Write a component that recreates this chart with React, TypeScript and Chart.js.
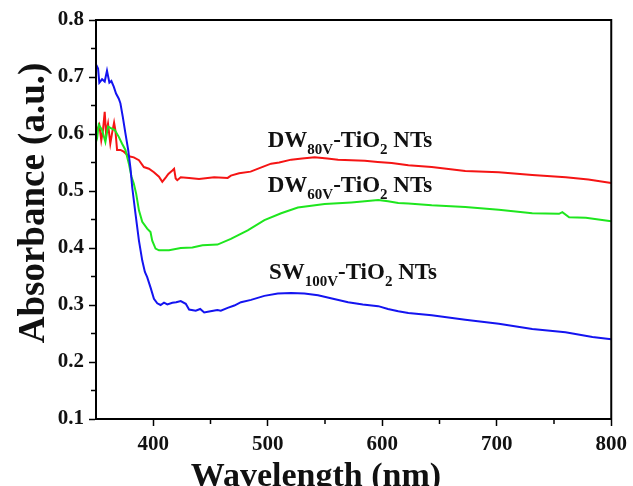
import React, { useEffect, useRef } from "react";
import { Chart, registerables } from "chart.js";

Chart.register(...registerables);

const X_TICKS = [400, 500, 600, 700, 800];
const X_MINOR = [450, 550, 650, 750];
const Y_TICKS = [0.1, 0.2, 0.3, 0.4, 0.5, 0.6, 0.7, 0.8];
const Y_MINOR = [0.15, 0.25, 0.35, 0.45, 0.55, 0.65, 0.75];

const WAVE_SW100 = [349.5, 351.8, 352.9, 355.3, 357.6, 359.6, 361.7, 363.4, 365.5, 367.5, 369.9, 371.3, 373.4, 375.7, 378.1, 380.1, 381.6, 384.5, 387.5, 390.4, 392.7, 394.7, 397.6, 400.6, 403.5, 406.4, 409.4, 412.3, 416.7, 420, 424, 428.4, 431.3, 437.1, 441, 444.5, 450, 456, 459, 465, 470.8, 476.6, 485.4, 497, 508.8, 520.5, 532, 543.9, 557, 570.2, 583, 596.5, 605, 614, 622.8, 643.2, 672.5, 701.8, 731, 760, 783.6, 800];
const ABS_SW100 = [0.724, 0.715, 0.69, 0.696, 0.692, 0.711, 0.69, 0.693, 0.683, 0.671, 0.662, 0.654, 0.63, 0.601, 0.572, 0.54, 0.507, 0.46, 0.413, 0.378, 0.358, 0.349, 0.331, 0.311, 0.303, 0.3, 0.304, 0.301, 0.304, 0.305, 0.307, 0.302, 0.292, 0.29, 0.293, 0.287, 0.289, 0.291, 0.29, 0.295, 0.299, 0.305, 0.309, 0.316, 0.32, 0.321, 0.32, 0.317, 0.311, 0.305, 0.301, 0.298, 0.293, 0.289, 0.286, 0.282, 0.274, 0.267, 0.258, 0.252, 0.244, 0.24];

const WAVE_DW80 = [349.5, 350.9, 352.9, 354.6, 356.1, 357.6, 358.8, 360.5, 362.5, 364, 365.8, 366.9, 368.4, 371.3, 374.3, 378.7, 383, 387.5, 391.8, 396.2, 400.6, 405, 407.9, 411, 413.2, 416.7, 418.2, 419.6, 421, 424, 431.3, 440, 453.2, 465, 467.8, 475, 485, 495, 502.9, 510, 520.5, 530, 541, 552, 561.4, 573, 584.8, 596, 608.2, 622.8, 643.2, 672.5, 701.8, 731, 760.3, 780, 800];
const ABS_DW80 = [0.598, 0.607, 0.616, 0.589, 0.607, 0.639, 0.601, 0.618, 0.583, 0.601, 0.62, 0.607, 0.572, 0.572, 0.569, 0.561, 0.559, 0.554, 0.542, 0.539, 0.533, 0.525, 0.516, 0.524, 0.53, 0.536, 0.539, 0.522, 0.519, 0.524, 0.523, 0.521, 0.524, 0.523, 0.527, 0.531, 0.534, 0.542, 0.548, 0.55, 0.555, 0.557, 0.559, 0.557, 0.555, 0.554, 0.553, 0.551, 0.549, 0.545, 0.542, 0.535, 0.533, 0.528, 0.524, 0.52, 0.514];

const WAVE_DW60 = [349.5, 350.9, 352.4, 355.3, 358.2, 360.5, 363.4, 366.4, 369.9, 372.8, 375.7, 378.7, 381, 383, 385.1, 387.5, 390.4, 394.7, 397.6, 399.1, 402, 405, 413.8, 424, 434.2, 443, 456.1, 467.8, 482.5, 497.1, 511.7, 526.3, 549.7, 573, 596.5, 605, 614, 622.8, 643.2, 672.5, 701.8, 731, 754.4, 757.3, 763.2, 777.8, 800];
const ABS_DW60 = [0.583, 0.592, 0.616, 0.607, 0.586, 0.613, 0.61, 0.607, 0.595, 0.583, 0.572, 0.548, 0.525, 0.513, 0.495, 0.466, 0.446, 0.434, 0.428, 0.413, 0.399, 0.396, 0.396, 0.4, 0.401, 0.405, 0.406, 0.416, 0.431, 0.449, 0.461, 0.471, 0.477, 0.48, 0.484, 0.482, 0.479, 0.478, 0.475, 0.472, 0.467, 0.461, 0.46, 0.463, 0.454, 0.453, 0.447];

const SERIES_NAMES = ["SW100V-TiO2 NTs", "DW60V-TiO2 NTs", "DW80V-TiO2 NTs"];

// annotation parts alternate main / subscript, anchor in data coords
const LABELS = [
  { parts: ["DW", "80V", "-TiO", "2", " NTs"], x: 500, y: 0.578 },
  { parts: ["DW", "60V", "-TiO", "2", " NTs"], x: 500, y: 0.498 },
  { parts: ["SW", "100V", "-TiO", "2", " NTs"], x: 501, y: 0.345 },
];

const X_TITLE = "Wavelength (nm)";
const Y_TITLE = "Absorbance (a.u.)";

const SERIF = "'Liberation Serif', 'Times New Roman', serif";

const toPoints = (xs: number[], ys: number[]) => xs.map((x, i) => ({ x, y: ys[i] }));

const decorPlugin = {
  id: "decor",
  afterDraw(chart: any) {
    const { ctx, chartArea, scales } = chart;
    const xs = scales.x;
    const ys = scales.y;
    ctx.save();
    ctx.strokeStyle = "#000";
    ctx.lineWidth = 2;
    ctx.strokeRect(chartArea.left, chartArea.top, chartArea.right - chartArea.left, chartArea.bottom - chartArea.top);
    ctx.lineWidth = 1.5;
    ctx.beginPath();
    X_MINOR.forEach((v) => {
      const px = xs.getPixelForValue(v);
      ctx.moveTo(px, chartArea.bottom);
      ctx.lineTo(px, chartArea.bottom + 5);
    });
    Y_MINOR.forEach((v) => {
      const py = ys.getPixelForValue(v);
      ctx.moveTo(chartArea.left, py);
      ctx.lineTo(chartArea.left - 5, py);
    });
    ctx.stroke();

    ctx.fillStyle = "#111";
    ctx.textBaseline = "alphabetic";
    ctx.textAlign = "left";
    LABELS.forEach((lab) => {
      let px = xs.getPixelForValue(lab.x);
      const py = ys.getPixelForValue(lab.y);
      lab.parts.forEach((p, i) => {
        const isSub = i % 2 === 1;
        ctx.font = `bold ${isSub ? 15 : 23}px ${SERIF}`;
        ctx.fillText(p, px, isSub ? py + 7 : py);
        px += ctx.measureText(p).width;
      });
    });

    ctx.font = `bold 34px ${SERIF}`;
    ctx.textAlign = "center";
    ctx.textBaseline = "alphabetic";
    ctx.fillText(X_TITLE, 316, 486);
    ctx.save();
    ctx.translate(44, 203);
    ctx.rotate(-Math.PI / 2);
    ctx.font = `bold 37px ${SERIF}`;
    ctx.fillText(Y_TITLE, 0, 0);
    ctx.restore();
    ctx.restore();
  },
};

export default function App() {
  const ref = useRef<HTMLCanvasElement | null>(null);
  useEffect(() => {
    if (!ref.current) return;
    const chart = new Chart(ref.current, {
      type: "line",
      data: {
        datasets: [
          { label: SERIES_NAMES[0], data: toPoints(WAVE_SW100, ABS_SW100), borderColor: "#1414f0", borderWidth: 2, pointRadius: 0, tension: 0 },
          { label: SERIES_NAMES[1], data: toPoints(WAVE_DW60, ABS_DW60), borderColor: "#1ee61e", borderWidth: 2, pointRadius: 0, tension: 0 },
          { label: SERIES_NAMES[2], data: toPoints(WAVE_DW80, ABS_DW80), borderColor: "#f51414", borderWidth: 2, pointRadius: 0, tension: 0 },
        ],
      },
      options: {
        animation: false,
        responsive: false,
        maintainAspectRatio: false,
        layout: { padding: { top: 20, right: 20, left: 0, bottom: 0 } },
        plugins: { legend: { display: false }, tooltip: { enabled: false } },
        scales: {
          x: {
            type: "linear",
            min: 350,
            max: 800,
            afterBuildTicks: (s: any) => { s.ticks = X_TICKS.map((v) => ({ value: v })); },
            afterFit: (s: any) => { s.height = 67; },
            grid: { drawOnChartArea: false, drawTicks: true, tickLength: 7, tickWidth: 1.5, tickColor: "#000" },
            border: { display: true, color: "#000", width: 2 },
            ticks: { color: "#111", font: { family: SERIF, size: 21, weight: "bold" }, padding: 6, maxRotation: 0, callback: (v: any) => String(v) },
          },
          y: {
            type: "linear",
            min: 0.1,
            max: 0.8,
            afterBuildTicks: (s: any) => { s.ticks = Y_TICKS.map((v) => ({ value: v })); },
            afterFit: (s: any) => { s.width = 96; },
            grid: { drawOnChartArea: false, drawTicks: true, tickLength: 7, tickWidth: 1.5, tickColor: "#000" },
            border: { display: true, color: "#000", width: 2 },
            ticks: { color: "#111", font: { family: SERIF, size: 21, weight: "bold" }, padding: 5, callback: (v: any) => Number(v).toFixed(1) },
          },
        },
      },
      plugins: [decorPlugin],
    });
    return () => chart.destroy();
  }, []);
  return (
    <div style={{ position: "fixed", left: 0, top: 0, width: 633, height: 486, background: "#fff" }}>
      <canvas ref={ref} width={633} height={486} />
    </div>
  );
}
